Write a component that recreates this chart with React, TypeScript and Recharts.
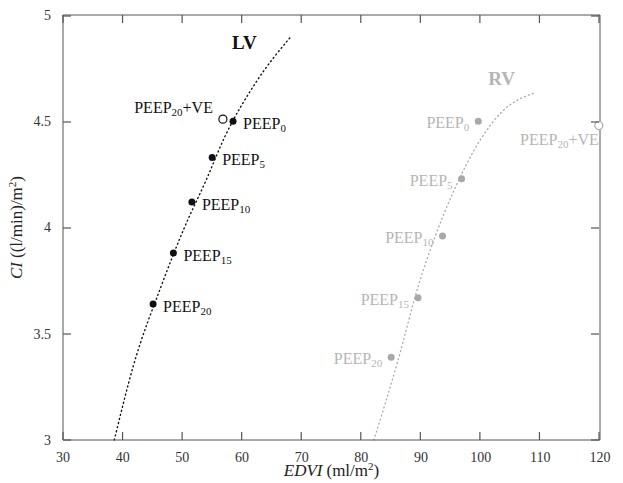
import React from 'react';
import { ComposedChart, XAxis, YAxis, Line, Scatter, Label, ReferenceDot } from 'recharts';

// axis ticks
const xTicks = [30, 40, 50, 60, 70, 80, 90, 100, 110, 120];
const yTicks = [3, 3.5, 4, 4.5, 5];

// measured points (EDVI, CI), label subscript
const lvPoints = [
  { x: 58.5, y: 4.5, sub: '0' },
  { x: 55.0, y: 4.33, sub: '5' },
  { x: 51.6, y: 4.12, sub: '10' },
  { x: 48.5, y: 3.88, sub: '15' },
  { x: 45.1, y: 3.64, sub: '20' },
];
const lvVE = [{ x: 56.8, y: 4.51, sub: '20', tail: '+VE' }];

const rvPoints = [
  { x: 99.6, y: 4.5, sub: '0' },
  { x: 96.8, y: 4.23, sub: '5' },
  { x: 93.6, y: 3.96, sub: '10' },
  { x: 89.5, y: 3.67, sub: '15' },
  { x: 85.0, y: 3.39, sub: '20' },
];
const rvVE = [{ x: 119.8, y: 4.48, sub: '20', tail: '+VE' }];

// fitted curves
const lvCurve = [
  { x: 38.6, y: 3.0 },
  { x: 41.8, y: 3.35 },
  { x: 46.4, y: 3.72 },
  { x: 50.2, y: 3.99 },
  { x: 54.1, y: 4.23 },
  { x: 57.0, y: 4.42 },
  { x: 62.5, y: 4.69 },
  { x: 68.1, y: 4.895 },
];
const rvCurve = [
  { x: 82.1, y: 3.0 },
  { x: 86.0, y: 3.36 },
  { x: 89.6, y: 3.73 },
  { x: 92.4, y: 3.96 },
  { x: 95.3, y: 4.16 },
  { x: 100.0, y: 4.415 },
  { x: 103.4, y: 4.54 },
  { x: 109.2, y: 4.635 },
];

const FONT = '"Liberation Serif", "Times New Roman", serif';
const AXIS = '#555';
const GRAY = '#a8a8a8';
const GRAY_TXT = '#b5b5b5';
const X0 = 30, X1 = 120, Y0 = 3, Y1 = 5;

// plot box in px (matches the chart margins / axis sizes below)
const BOX = { left: 63, right: 599, top: 16, bottom: 440 };
const TICK_LEN = 8;
const px = (v: number) => BOX.left + ((v - X0) / (X1 - X0)) * (BOX.right - BOX.left);
const py = (v: number) => BOX.bottom - ((v - Y0) / (Y1 - Y0)) * (BOX.bottom - BOX.top);

// inward tick marks on all four sides, drawn over the chart
const FrameTicks = () => (
  <svg width={623} height={483} style={{ position: 'absolute', left: 0, top: 0, pointerEvents: 'none' }}>
    <g stroke={AXIS} strokeWidth={1.2}>
      {xTicks.map((t) => (
        <g key={`x${t}`}>
          <line x1={px(t)} x2={px(t)} y1={BOX.bottom} y2={BOX.bottom - TICK_LEN} />
          <line x1={px(t)} x2={px(t)} y1={BOX.top - 1} y2={BOX.top - 1 + TICK_LEN} />
        </g>
      ))}
      {yTicks.map((t) => (
        <g key={`y${t}`}>
          <line x1={BOX.left} x2={BOX.left + TICK_LEN} y1={py(t)} y2={py(t)} />
          <line x1={BOX.right} x2={BOX.right - TICK_LEN} y1={py(t)} y2={py(t)} />
        </g>
      ))}
    </g>
  </svg>
);

const PeepText = ({ x, y, anchor, fill, sub, tail }: any) => (
  <text x={x} y={y} textAnchor={anchor} fill={fill} fontSize={16} fontFamily={FONT}>
    PEEP
    <tspan fontSize={11} dy={3}>{sub}</tspan>
    {tail ? <tspan dy={-3} fontSize={16}>{tail}</tspan> : null}
  </text>
);

const pointShape = (opts: { color: string; textColor: string; open?: boolean; dx: number; dy: number; anchor: string }) =>
  (props: any) => {
    const { cx, cy, payload } = props;
    return (
      <g>
        {opts.open ? (
          <circle cx={cx} cy={cy} r={4} fill="#fff" stroke={opts.color} strokeWidth={1.2} />
        ) : (
          <circle cx={cx} cy={cy} r={3.5} fill={opts.color} />
        )}
        <PeepText x={cx + opts.dx} y={cy + opts.dy} anchor={opts.anchor} fill={opts.textColor} sub={payload.sub} tail={payload.tail} />
      </g>
    );
  };

const tickStyle = { fill: '#333', fontSize: 14, fontFamily: FONT };

export default function App() {
  return (
    <div style={{ position: 'absolute', left: 0, top: 0, width: 623, height: 483 }}>
      <ComposedChart width={623} height={483} margin={{ top: 15, right: 23, bottom: 0, left: 0 }}>
        <XAxis
          xAxisId="b"
          type="number"
          dataKey="x"
          domain={[X0, X1]}
          ticks={xTicks}
          height={43}
          tickLine={false}
          tickMargin={6}
          stroke={AXIS}
          tick={tickStyle}
        >
          <Label
            content={({ viewBox }: any) => (
              <text x={viewBox.x + viewBox.width / 2} y={viewBox.y + 36} textAnchor="middle" fontSize={17} fontFamily={FONT} fill="#222">
                <tspan fontStyle="italic">EDVI</tspan>
                <tspan dx={4}>(ml/m</tspan>
                <tspan fontSize={11} dy={-6}>2</tspan>
                <tspan dy={6}>)</tspan>
              </text>
            )}
          />
        </XAxis>
        <XAxis
          xAxisId="t"
          orientation="top"
          type="number"
          domain={[X0, X1]}
          ticks={xTicks}
          height={1}
          mirror
          tickLine={false}
          stroke={AXIS}
          tick={false}
        />
        <YAxis
          yAxisId="l"
          type="number"
          dataKey="y"
          domain={[Y0, Y1]}
          ticks={yTicks}
          width={63}
          tickLine={false}
          tickMargin={6}
          stroke={AXIS}
          tick={tickStyle}
        >
          <Label
            content={({ viewBox }: any) => {
              const cx = 22;
              const cy = viewBox.y + viewBox.height / 2;
              return (
                <text x={cx} y={cy} transform={`rotate(-90 ${cx} ${cy})`} textAnchor="middle" fontSize={17} fontFamily={FONT} fill="#222">
                  <tspan fontStyle="italic">CI</tspan>
                  <tspan dx={4}>((l/min)/m</tspan>
                  <tspan fontSize={11} dy={-6}>2</tspan>
                  <tspan dy={6}>)</tspan>
                </text>
              );
            }}
          />
        </YAxis>
        <YAxis
          yAxisId="r"
          orientation="right"
          type="number"
          domain={[Y0, Y1]}
          ticks={yTicks}
          width={1}
          mirror
          tickLine={false}
          stroke={AXIS}
          tick={false}
        />

        <Line xAxisId="b" yAxisId="l" data={lvCurve} dataKey="y" type="monotone" stroke="#111" strokeWidth={1.4}
          strokeDasharray="1 3.2" strokeLinecap="round" dot={false} isAnimationActive={false} />
        <Line xAxisId="b" yAxisId="l" data={rvCurve} dataKey="y" type="monotone" stroke={GRAY} strokeWidth={1.3}
          strokeDasharray="1 3.2" strokeLinecap="round" dot={false} isAnimationActive={false} />

        <Scatter xAxisId="b" yAxisId="l" data={lvPoints} dataKey="y" isAnimationActive={false}
          shape={pointShape({ color: '#111', textColor: '#111', dx: 10, dy: 8, anchor: 'start' })} />
        <Scatter xAxisId="b" yAxisId="l" data={lvVE} dataKey="y" isAnimationActive={false}
          shape={pointShape({ color: '#111', textColor: '#111', open: true, dx: -10, dy: -6, anchor: 'end' })} />
        <Scatter xAxisId="b" yAxisId="l" data={rvPoints} dataKey="y" isAnimationActive={false}
          shape={pointShape({ color: GRAY, textColor: GRAY_TXT, dx: -9, dy: 7, anchor: 'end' })} />
        <Scatter xAxisId="b" yAxisId="l" data={rvVE} dataKey="y" isAnimationActive={false}
          shape={pointShape({ color: GRAY, textColor: GRAY_TXT, open: true, dx: 0, dy: 19, anchor: 'end' })} />

        <ReferenceDot xAxisId="b" yAxisId="l" x={60.4} y={4.87} r={1} fill="none" stroke="none"
          label={{ value: 'LV', position: 'center', fill: '#111', fontSize: 19, fontWeight: 'bold', fontFamily: FONT }} />
        <ReferenceDot xAxisId="b" yAxisId="l" x={103.5} y={4.7} r={1} fill="none" stroke="none"
          label={{ value: 'RV', position: 'center', fill: GRAY_TXT, fontSize: 19, fontWeight: 'bold', fontFamily: FONT }} />
      </ComposedChart>
      <FrameTicks />
    </div>
  );
}
